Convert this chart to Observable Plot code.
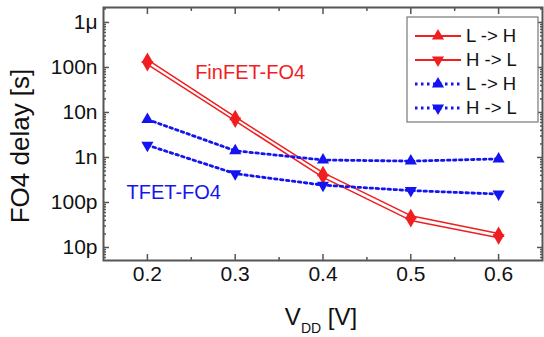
<!DOCTYPE html>
<html><head><meta charset="utf-8">
<script src="https://cdn.jsdelivr.net/npm/d3@7"></script>
<script src="https://cdn.jsdelivr.net/npm/@observablehq/plot@0.6"></script>
<style>
body{margin:0;background:#fff;}
#chart{width:544px;height:337px;}
</style>
</head><body><div id="chart"></div>
<script>
// ---- data ----
const vdd = [0.2, 0.3, 0.4, 0.5, 0.6];
const finfetLH = [1.5e-7, 8.0e-9, 4.6e-10, 5.1e-11, 2.05e-11];
const finfetHL = [1.17e-7, 6.5e-9, 3.6e-10, 4.0e-11, 1.65e-11];
const tfetLH = [7.0e-9, 1.41e-9, 0.88e-9, 0.83e-9, 0.93e-9];
const tfetHL = [1.88e-9, 4.37e-10, 2.43e-10, 1.84e-10, 1.54e-10];
const xTicks = [0.2, 0.3, 0.4, 0.5, 0.6];
const xTickLabels = ["0.2", "0.3", "0.4", "0.5", "0.6"];
const xMinorTicks = [0.25, 0.35, 0.45, 0.55];
const yTicks = [1e-11, 1e-10, 1e-9, 1e-8, 1e-7, 1e-6];
const yTickLabels = ["10p", "100p", "1n", "10n", "100n", "1μ"];
const legendLabels = ["L -> H", "H -> L", "L -> H", "H -> L"];
const yAxisLabel = "FO4 delay [s]";
const annotations = [
  {label: "FinFET-FO4", x: 0.317, y: 7.7e-8, group: "finfet"},
  {label: "TFET-FO4", x: 0.23, y: 1.67e-10, group: "tfet"}
];

const RED = "#f01e1e", BLUE = "#1414f0", AXIS = "#555";
const FONT = "'Liberation Sans', Arial, sans-serif";
const xDomain = [0.15, 0.65];
const yDomain = [5.14e-12, 2.15e-6];
const DOTS = "2.5,3.5";

const series = [
  {values: finfetLH, color: RED, dotted: false, down: false, label: legendLabels[0]},
  {values: finfetHL, color: RED, dotted: false, down: true, label: legendLabels[1]},
  {values: tfetLH, color: BLUE, dotted: true, down: false, label: legendLabels[2]},
  {values: tfetHL, color: BLUE, dotted: true, down: true, label: legendLabels[3]}
];

const yMinor = [];
for (let e = -12; e <= -6; e++) for (let m = 2; m <= 9; m++) {
  const v = m * Math.pow(10, e);
  if (v > yDomain[0] && v < yDomain[1]) yMinor.push(v);
}

const marks = [];
series.forEach(s => {
  const rows = vdd.map((x, i) => ({x, y: s.values[i]}));
  marks.push(Plot.line(rows, {x: "x", y: "y", stroke: s.color,
    strokeWidth: s.dotted ? 2.8 : 1.5,
    strokeDasharray: s.dotted ? DOTS : null,
    curve: "linear"}));
});
series.forEach(s => {
  const rows = vdd.map((x, i) => ({x, y: s.values[i]}));
  marks.push(Plot.dot(rows, {x: "x", y: "y", symbol: "triangle", r: 4.5,
    fill: s.color, stroke: "none", rotate: s.down ? 180 : 0}));
});
annotations.forEach(a => {
  marks.push(Plot.text([a], {x: "x", y: "y", text: "label",
    fill: a.group === "finfet" ? RED : BLUE, fontSize: 20}));
});

const tickOpts = {fill: "none", label: null, stroke: AXIS, strokeWidth: 1.5};
marks.push(
  Plot.axisX(xTicks, {anchor: "bottom", tickSize: 0, tickPadding: 6, fontSize: 21,
    tickFormat: d => xTickLabels[xTicks.indexOf(d)], label: null, fill: "#111"}),
  Plot.axisY(yTicks, {anchor: "left", tickSize: 0, tickPadding: 6, fontSize: 21,
    tickFormat: d => yTickLabels[yTicks.indexOf(d)], label: null, fill: "#111"}),
  Plot.axisX(xTicks, {anchor: "bottom", tickSize: -6, ...tickOpts}),
  Plot.axisX(xTicks, {anchor: "top", tickSize: -6, ...tickOpts}),
  Plot.axisX(xMinorTicks, {anchor: "bottom", tickSize: -3, ...tickOpts}),
  Plot.axisX(xMinorTicks, {anchor: "top", tickSize: -3, ...tickOpts}),
  Plot.axisY(yTicks, {anchor: "left", tickSize: -6, ...tickOpts}),
  Plot.axisY(yTicks, {anchor: "right", tickSize: -6, ...tickOpts}),
  Plot.axisY(yMinor, {anchor: "left", tickSize: -3, ...tickOpts}),
  Plot.axisY(yMinor, {anchor: "right", tickSize: -3, ...tickOpts}),
  Plot.frame({stroke: AXIS, strokeWidth: 2})
);

const chart = Plot.plot({
  width: 544, height: 337,
  marginLeft: 103, marginRight: 2, marginTop: 7, marginBottom: 77,
  style: {fontFamily: FONT, background: "#fff", color: "#111", overflow: "visible"},
  x: {domain: xDomain},
  y: {type: "log", domain: yDomain},
  marks
});
document.getElementById("chart").appendChild(chart);

const svg = d3.select(chart);
// y-axis label
svg.append("text").attr("transform", "translate(20,146) rotate(-90)")
  .attr("text-anchor", "middle").attr("dy", "0.36em")
  .attr("font-family", FONT).attr("font-size", 26).attr("fill", "#111").text(yAxisLabel);

// x-axis label with subscript
const xl = svg.append("text").attr("x", 321).attr("y", 325)
  .attr("text-anchor", "middle").attr("font-family", FONT).attr("font-size", 24).attr("fill", "#111");
xl.append("tspan").text("V");
xl.append("tspan").attr("font-size", 14).attr("dy", 8).text("DD");
xl.append("tspan").attr("dy", -8).text(" [V]");

// legend
const lg = svg.append("g").attr("font-family", FONT).attr("text-anchor", "start");
lg.append("rect").attr("x", 407).attr("y", 17).attr("width", 131).attr("height", 105)
  .attr("fill", "#fff").attr("stroke", "#777").attr("stroke-width", 1.2);
series.forEach((s, i) => {
  const cy = 36 + i * 24;
  lg.append("line").attr("x1", 415).attr("x2", 461).attr("y1", cy).attr("y2", cy)
    .attr("stroke", s.color).attr("stroke-width", s.dotted ? 2.8 : 2)
    .attr("stroke-dasharray", s.dotted ? DOTS : null);
  lg.append("path").attr("d", d3.symbol(d3.symbolTriangle, 64)())
    .attr("transform", `translate(438,${cy}) rotate(${s.down ? 180 : 0})`)
    .attr("fill", s.color);
  lg.append("text").attr("x", 466).attr("y", cy).attr("dy", "0.35em")
    .attr("text-anchor", "start")
    .attr("font-size", 18.5).attr("fill", "#111").text(s.label);
});
</script>
</body></html>
